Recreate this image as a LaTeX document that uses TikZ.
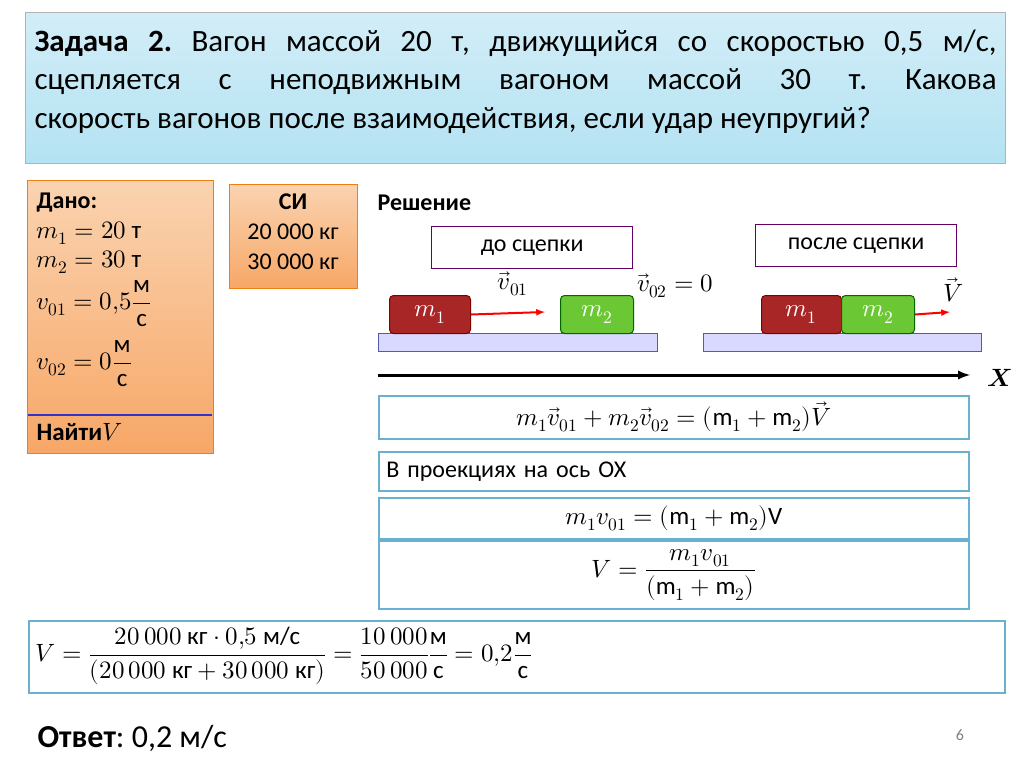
\documentclass[tikz,border=0pt]{standalone}
\usepackage{amsmath}
\usepackage{fontspec}
\usepackage{unicode-math}
\setmainfont{Carlito}
\setmathfont{Latin Modern Math}
\frenchspacing
\newcommand{\tx}[1]{\text{#1}}
\definecolor{ttl}{HTML}{B4E2F2}
\definecolor{org1}{HTML}{FAD3B0}
\definecolor{org2}{HTML}{F7A767}
\begin{document}
\begin{tikzpicture}[x=1pt,y=-1pt,
  fs/.style={font=\fontsize{25}{29}\selectfont},
  eqbox/.style={draw=cyan!45!teal!70,line width=1.5pt,fill=white},
  labbox/.style={draw=violet!80!black,line width=1.3pt,fill=white},
  plat/.style={draw=gray!70!blue,fill=blue!15},
  car/.style={rounded corners=4pt,line width=1pt,fs,text=white}]
\useasboundingbox (0,0) rectangle (1024,767);
\fill[white] (0,0) rectangle (1024,767);
% title
\node (title) [draw=gray!60,line width=1pt,top color=ttl!60,bottom color=ttl,minimum width=980pt,minimum height=151pt,anchor=north west] at (25,12) {};
\node (titletxt) [anchor=north west,text width=962pt,align=justify,font=\fontsize{31}{38.5}\selectfont] at (31,26) {\textbf{Задача 2.} Вагон массой 20 т, движущийся со скоростью 0,5 м/с,\linebreak сцепляется с неподвижным вагоном массой 30 т. Какова\linebreak скорость вагонов после взаимодействия, если удар неупругий?};
% dano
\node (dano) [draw=orange!70!brown,line width=1pt,top color=org1,bottom color=org2,minimum width=186pt,minimum height=273pt,anchor=north west] at (27,180) {};
\draw[blue!60!gray,line width=2pt] (28,415) -- (212,415);
\node (d0) [anchor=west,font={\bfseries\fontsize{24}{28}\selectfont}] at (33,203) {Дано:};
\node (d1) [anchor=west,fs] at (33,233) {$m_1=20\ \tx{т}$};
\node (d2) [anchor=west,fs] at (33,262) {$m_2=30\ \tx{т}$};
\node (d3) [anchor=west,fs] at (33,304) {$v_{01}=0{,}5\dfrac{\tx{м}}{\tx{с}}$};
\node (d4) [anchor=west,fs] at (33,364) {$v_{02}=0\dfrac{\tx{м}}{\tx{с}}$};
\node (find) [anchor=west,fs] at (33,432) {\textbf{Найти}$V$};
% SI
\node (si) [draw=orange!70!brown,line width=1pt,top color=org1,bottom color=org2,minimum width=128pt,minimum height=104pt,anchor=north west] at (229,184) {};
\node (sit) [align=center,font=\fontsize{24}{30}\selectfont,anchor=north] at (293,190) {\textbf{СИ}\\20 000 кг\\30 000 кг};
\node (resh) [anchor=west,font=\bfseries\fontsize{24}{28}\selectfont] at (374,203) {Решение};
\node (do) [labbox,minimum width=201pt,minimum height=42pt,anchor=north west,font=\fontsize{24}{28}\selectfont] at (431,226) {до сцепки};
\node (posle) [labbox,minimum width=201pt,minimum height=42pt,anchor=north west,font=\fontsize{24}{28}\selectfont] at (755,224) {после сцепки};
\node (p1) [plat,minimum width=279pt,minimum height=18pt,anchor=north west] at (378,333) {};
\node (p2) [plat,minimum width=278pt,minimum height=18pt,anchor=north west] at (703,333) {};
\node (a1) [car,draw=red!50!black,fill=red!60!black!85,minimum width=81pt,minimum height=38pt,anchor=north west] at (389,295) {$m_1$};
\node (b1) [car,draw=green!40!black,fill=green!45!olive!80,minimum width=73pt,minimum height=38pt,anchor=north west] at (560,295) {$m_2$};
\coordinate (e1) at (545,312);
\draw[red,line width=2pt,-latex] (a1.east) -- (e1);
\node (v01) [fs] at (513,284) {$\vec v_{01}$};
\node (v02) [fs] at (675,286) {$\vec v_{02}=0$};
\node (a2) [car,draw=red!50!black,fill=red!60!black!85,minimum width=80pt,minimum height=38pt,anchor=north west] at (761,295) {$m_1$};
\node (b2) [car,draw=green!40!black,fill=green!45!olive!80,minimum width=73pt,minimum height=38pt,anchor=north west] at (841,295) {$m_2$};
\coordinate (e2) at (950,312);
\draw[red,line width=2pt,-latex] (b2.east) -- (e2);
\node (vv) [fs] at (953,290) {$\vec V$};
\coordinate (x0) at (378,375); \coordinate (x1) at (970,375);
\draw[line width=3pt,-latex] (x0) -- (x1);
\node (X) [fs] at (1000,378) {$\symbfit{X}$};
\node (eq1) [eqbox,fs,minimum width=590pt,minimum height=43pt,anchor=north west] at (378,395) {$m_1\vec v_{01}+m_2\vec v_{02}=(\mathrm{m}_1+\mathrm{m}_2)\vec V$};
\node (eq2) [eqbox,font=\fontsize{24}{28}\selectfont,minimum width=590pt,minimum height=39pt,anchor=north west,text width=575pt,align=left] at (378,451) {В проекциях на ось ОХ};
\node (eq3) [eqbox,fs,minimum width=590pt,minimum height=41pt,anchor=north west] at (378,497) {$m_1v_{01}=(\mathrm{m}_1+\mathrm{m}_2)\mathrm{V}$};
\node (eq4) [eqbox,fs,minimum width=590pt,minimum height=68pt,anchor=north west] at (378,540) {$V=\dfrac{m_1v_{01}}{(\mathrm{m}_1+\mathrm{m}_2)}$};
\node (eq5) [eqbox,minimum width=976pt,minimum height=72pt,anchor=north west] at (28,620) {};
\node (eq5t) [anchor=west,fs] at (32,656) {$V=\dfrac{20\,000\ \tx{кг}\cdot 0{,}5\ \tx{м/с}}{(20\,000\ \tx{кг}+30\,000\ \tx{кг})}=\dfrac{10\,000}{50\,000}\dfrac{\tx{м}}{\tx{с}}=0{,}2\dfrac{\tx{м}}{\tx{с}}$};
\node (ans) [anchor=west,font=\fontsize{32}{36}\selectfont] at (34,738) {\textbf{Ответ}: 0,2 м/с};
\node (pg) [text=gray,font=\fontsize{16}{18}\selectfont] at (960,735) {6};
\end{tikzpicture}
\end{document}
